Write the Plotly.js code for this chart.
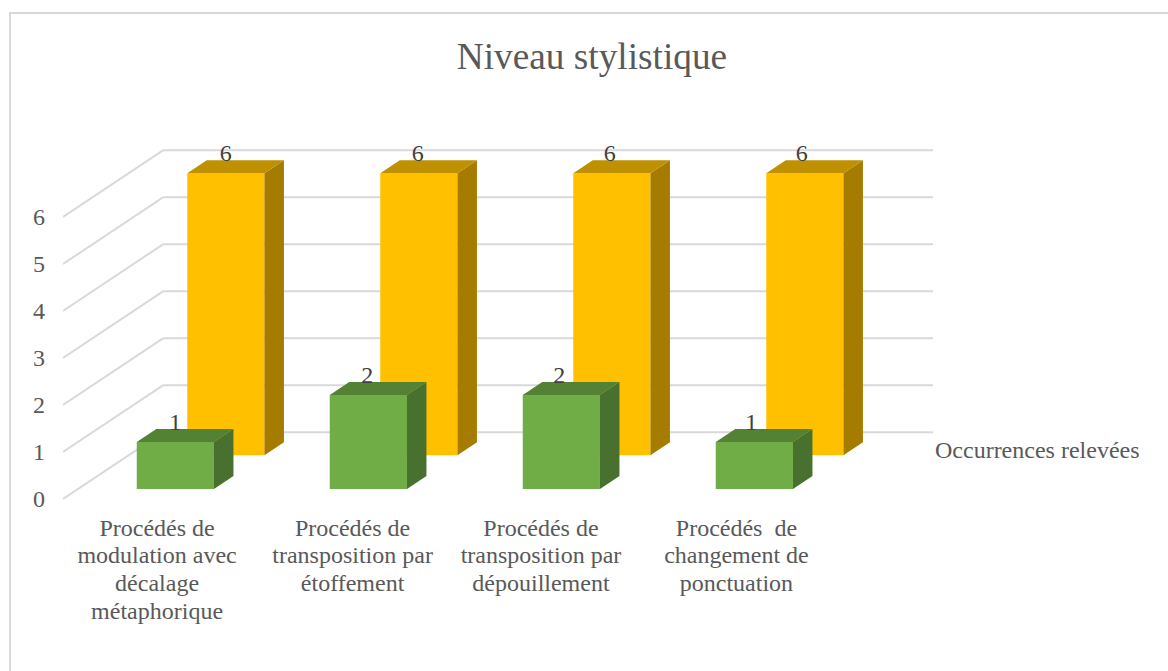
<!DOCTYPE html>
<html>
<head>
<meta charset="utf-8">
<script src="https://cdn.plot.ly/plotly-3.0.1.min.js"></script>
<style>html,body{margin:0;padding:0;background:#fff;overflow:hidden}</style>
</head>
<body>
<div id="chart" style="width:1168px;height:671px"></div>
<script>
const categories = [
  "Procédés de<br>modulation avec<br>décalage<br>métaphorique",
  "Procédés de<br>transposition par<br>étoffement",
  "Procédés de<br>transposition par<br>dépouillement",
  "Procédés  de<br>changement de<br>ponctuation"
];
const frontValues = [1, 2, 2, 1];
const backValues = [6, 6, 6, 6];
const valueTicks = [0, 1, 2, 3, 4, 5, 6];
const titleText = "Niveau stylistique";
const seriesLabel = "Occurrences relevées";

// Oblique projection: plot geometry in pixels, depth expressed in axis units
const W = 1168, H = 671;
const M = {l: 63, r: 8, t: 100, b: 158};
const pxPerCat = 193, pxPerVal = 47, originX = 160.35, originY = 499;
const depthX = 100 / pxPerCat, depthY = 66.7 / pxPerVal;
const barWidth = 0.4, barDepth = 0.195;
const frontZ = 0.15, backZ = 0.655;
const labelNudge = [-0.017, -0.004, -0.028, -0.015];
const labelLift = 0.39;
const FONT = "'Liberation Serif','Times New Roman',serif";
const TEXT_SIZE = 24;
const LINE_BOX = 21.5; // tick font size that yields the 28px line pitch
const wallEndX = (933 - originX) / pxPerCat;
const wallStartX = (63 - originX) / pxPerCat;

const xRange = [(M.l - originX) / pxPerCat, (W - M.r - originX) / pxPerCat];
const yRange = [(originY - (H - M.b)) / pxPerVal, (originY - M.t) / pxPerVal];
const paperX = px => (px - M.l) / (W - M.l - M.r);
const paperY = px => (H - M.b - px) / (H - M.t - M.b);
const tickText = c => c.split("<br>").map(l => `<span style="font-size:${TEXT_SIZE}px">${l}</span>`).join("<br>");

function boxFaces(values, z) {
  const side = {x: [], y: []}, top = {x: [], y: []};
  values.forEach((v, i) => {
    const cx = i + z * depthX, base = z * depthY;
    const r = cx + barWidth / 2, l = cx - barWidth / 2, t = base + v;
    const ox = barDepth * depthX, oy = barDepth * depthY;
    side.x.push(r, r + ox, r + ox, r, r, null);
    side.y.push(base, base + oy, t + oy, t, base, null);
    top.x.push(l, l + ox, r + ox, r, l, null);
    top.y.push(t, t + oy, t + oy, t, t, null);
  });
  return {side, top};
}
function bar(name, values, z, color) {
  return {type: "bar", name, x: values.map((_, i) => i + z * depthX),
    y: values, base: values.map(() => z * depthY), width: barWidth,
    marker: {color, line: {width: 0}}, hoverinfo: "y", showlegend: false};
}
function face(f, color) {
  return {type: "scatter", mode: "lines", x: f.x, y: f.y, fill: "toself",
    fillcolor: color, line: {width: 0, color}, hoverinfo: "skip", showlegend: false};
}
function labels(values, z, color) {
  return {type: "scatter", mode: "text",
    x: values.map((_, i) => i + z * depthX - i / pxPerCat),
    y: values.map(v => v + z * depthY + labelLift),
    text: values.map(String), textposition: "middle center",
    textfont: {family: FONT, size: TEXT_SIZE, color},
    hoverinfo: "skip", showlegend: false, cliponaxis: false};
}

const backFaces = boxFaces(backValues, backZ);
const frontFaces = boxFaces(frontValues, frontZ);

const traces = [
  bar("Série 2", backValues, backZ, "#FFC000"),
  bar(seriesLabel, frontValues, frontZ, "#70AD47"),
  face(backFaces.side, "#A67C00"),
  face(backFaces.top, "#BF9000"),
  face(frontFaces.side, "#48702E"),
  face(frontFaces.top, "#548235"),
  labels(backValues, backZ, "#404040"),
  labels(frontValues, frontZ, "#404040")
];

const gridLine = {color: "#D9D9D9", width: 2};
const shapes = [];
valueTicks.forEach(v => {
  shapes.push({type: "line", layer: "below", xref: "x", yref: "y",
    x0: wallStartX, y0: v, x1: wallStartX + depthX, y1: v + depthY, line: gridLine});
  shapes.push({type: "line", layer: "below", xref: "x", yref: "y",
    x0: wallStartX + depthX, y0: v + depthY, x1: wallEndX, y1: v + depthY, line: gridLine});
});
shapes.push({type: "rect", layer: "below", xref: "paper", yref: "paper",
  x0: paperX(10), x1: paperX(1190), y0: paperY(13), y1: paperY(700),
  line: {color: "#D9D9D9", width: 2}, fillcolor: "rgba(0,0,0,0)"});

const layout = {
  width: W, height: H, margin: M, autosize: false,
  paper_bgcolor: "#fff", plot_bgcolor: "rgba(0,0,0,0)",
  barmode: "overlay", showlegend: false, hovermode: false,
  title: {text: titleText, font: {family: FONT, size: 37.3, color: "#595959"},
    x: paperX(592), xanchor: "center", y: 1 - 56 / H, yanchor: "middle", xref: "paper"},
  xaxis: {range: xRange, fixedrange: true, showgrid: false, zeroline: false, showline: false,
    tickmode: "array", tickvals: categories.map((_, i) => i + labelNudge[i]), ticktext: categories.map(tickText),
    tickangle: 0, ticks: "", automargin: false,
    tickfont: {family: FONT, size: LINE_BOX, color: "#595959"}},
  yaxis: {range: yRange, fixedrange: true, showgrid: false, zeroline: false, showline: false,
    tickmode: "array", tickvals: valueTicks, ticktext: valueTicks.map(String),
    ticks: "", ticklabelstandoff: 17, automargin: false,
    tickfont: {family: FONT, size: TEXT_SIZE, color: "#595959"}},
  shapes,
  annotations: [{text: seriesLabel, xref: "paper", yref: "paper",
    x: paperX(934), y: paperY(450), xanchor: "left", yanchor: "middle", showarrow: false,
    borderpad: 0, font: {family: FONT, size: TEXT_SIZE, color: "#595959"}}]
};
Plotly.newPlot("chart", traces, layout, {displayModeBar: false, staticPlot: true});
</script>
</body>
</html>
